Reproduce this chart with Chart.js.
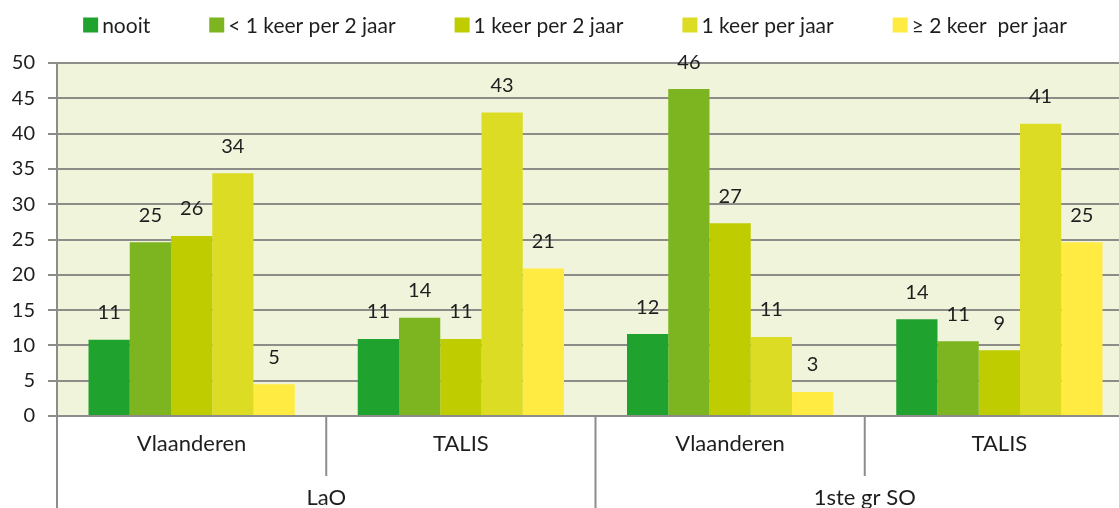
<!DOCTYPE html>
<html><head><meta charset="utf-8">
<script src="https://cdn.jsdelivr.net/npm/chart.js@4.4.1/dist/chart.umd.min.js"></script>
<style>html,body{margin:0;padding:0;overflow:hidden;background:#fff}
#wrap{width:1134px;height:508px;position:relative}</style></head>
<body><div id="wrap"><canvas id="c"></canvas></div>
<script>
const subCategories = ['Vlaanderen', 'TALIS', 'Vlaanderen', 'TALIS'];
const groupLabels = ['LaO', '1ste gr SO'];
const seriesNames = ['nooit', '< 1 keer per 2 jaar', '1 keer per 2 jaar', '1 keer per jaar', '≥ 2 keer  per jaar'];
const nooit = [10.8, 10.9, 11.6, 13.7];
const minderDan1Per2Jaar = [24.6, 13.9, 46.3, 10.6];
const eenPer2Jaar = [25.5, 10.9, 27.3, 9.3];
const eenPerJaar = [34.4, 43.0, 11.2, 41.4];
const tweeOfMeerPerJaar = [4.5, 20.9, 3.4, 24.6];
const seriesColors = ['#1fa22e', '#7cb51f', '#bfcd00', '#dddc25', '#ffeb41'];

const FONT = 'Lato, "Open Sans", sans-serif';
const TEXT = '#1e1e1e';
const GRID = '#8e8c88';

const plotBg = {
  id: 'plotBg',
  beforeDraw(chart) {
    const {ctx, chartArea: a} = chart;
    ctx.save();
    ctx.fillStyle = '#f0f4da';
    ctx.fillRect(a.left, a.top, a.right - a.left, a.bottom - a.top);
    ctx.restore();
  }
};

const dividers = {
  id: 'dividers',
  afterDraw(chart) {
    const {ctx, chartArea: a} = chart;
    const x = chart.scales.x, x2 = chart.scales.x2;
    const n = subCategories.length;
    const per = n / groupLabels.length;
    ctx.save();
    ctx.strokeStyle = GRID;
    ctx.lineWidth = 2;
    for (let i = 0; i <= n; i++) {
      let px;
      if (i === 0) px = a.left;
      else if (i === n) px = a.right;
      else px = (x.getPixelForValue(i - 1) + x.getPixelForValue(i)) / 2;
      const outer = i % per === 0;
      ctx.beginPath();
      ctx.moveTo(px, a.bottom);
      ctx.lineTo(px, outer ? x2.bottom : x.bottom);
      ctx.stroke();
    }
    ctx.restore();
  }
};

const valueLabels = {
  id: 'valueLabels',
  afterDatasetsDraw(chart) {
    const ctx = chart.ctx;
    ctx.save();
    ctx.font = '20px ' + FONT;
    ctx.fillStyle = TEXT;
    ctx.textAlign = 'center';
    ctx.textBaseline = 'middle';
    chart.data.datasets.forEach((ds, di) => {
      chart.getDatasetMeta(di).data.forEach((bar, i) => {
        ctx.fillText(String(Math.round(ds.data[i])), bar.x, bar.y - 27);
      });
    });
    ctx.restore();
  }
};

const topLegend = {
  id: 'topLegend',
  afterDraw(chart) {
    const ctx = chart.ctx;
    ctx.save();
    ctx.font = '21px ' + FONT;
    const box = 15, gapText = 4, gapItem = 59;
    const items = chart.data.datasets.map(d => ({text: d.label, color: d.backgroundColor, w: ctx.measureText(d.label).width}));
    const total = items.reduce((s, it) => s + box + gapText + it.w, 0) + gapItem * (items.length - 1);
    let cx = chart.width / 2 + 8 - total / 2;
    const cy = 25;
    ctx.textBaseline = 'middle';
    ctx.textAlign = 'left';
    items.forEach(it => {
      ctx.fillStyle = it.color;
      ctx.fillRect(cx, cy - box / 2, box, box);
      ctx.fillStyle = TEXT;
      ctx.fillText(it.text, cx + box + gapText, cy + 1);
      cx += box + gapText + it.w + gapItem;
    });
    ctx.restore();
  }
};

const seriesData = [nooit, minderDan1Per2Jaar, eenPer2Jaar, eenPerJaar, tweeOfMeerPerJaar];

new Chart(document.getElementById('c'), {
  type: 'bar',
  data: {
    labels: subCategories,
    datasets: seriesNames.map((name, i) => ({
      label: name,
      data: seriesData[i],
      backgroundColor: seriesColors[i],
      borderWidth: 0,
      categoryPercentage: 0.766,
      barPercentage: 1.0,
      xAxisID: 'x',
      yAxisID: 'y'
    }))
  },
  options: {
    responsive: true,
    maintainAspectRatio: false,
    animation: false,
    layout: {padding: {top: 63, right: 0, left: 0, bottom: 0}},
    plugins: {legend: {display: false}, tooltip: {enabled: false}},
    scales: {
      y: {
        min: 0, max: 50,
        ticks: {stepSize: 5, color: TEXT, font: {family: FONT, size: 20}, padding: 13},
        grid: {color: GRID, lineWidth: 2, tickLength: 9},
        border: {color: GRID, width: 2},
        afterFit(s) { s.width = 57; }
      },
      x: {
        type: 'category',
        labels: subCategories,
        position: 'bottom',
        grid: {display: false},
        border: {color: GRID, width: 2},
        ticks: {color: TEXT, font: {family: FONT, size: 22}, padding: 7, maxRotation: 0},
        afterFit(s) { s.height = 60; }
      },
      x2: {
        type: 'category',
        labels: groupLabels,
        position: 'bottom',
        offset: true,
        grid: {display: false},
        border: {display: false},
        ticks: {color: TEXT, font: {family: FONT, size: 22}, padding: 1, maxRotation: 0},
        afterFit(s) { s.height = 32; }
      }
    }
  },
  plugins: [plotBg, dividers, valueLabels, topLegend]
});
</script>
</body></html>
